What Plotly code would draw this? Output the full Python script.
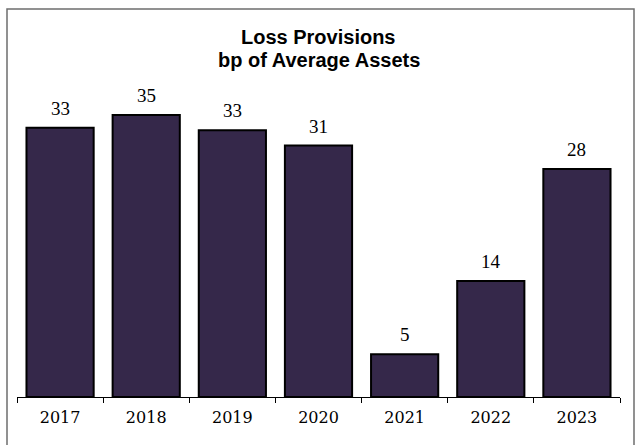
import plotly.graph_objects as go

years = ["2017", "2018", "2019", "2020", "2021", "2022", "2023"]
values = [33.4, 35.0, 33.1, 31.2, 5.3, 14.4, 28.3]
labels = ["33", "35", "33", "31", "5", "14", "28"]
title_lines = ["Loss Provisions", "bp of Average Assets"]

L, R, T, B = 17, 20, 100, 48
W, H = 640, 445
pw, ph = W - L - R, H - T - B

def px_x(x):
    return (x - L) / pw

def px_y(y):
    return (H - B - y) / ph

fig = go.Figure(go.Bar(
    x=years, y=values,
    marker=dict(color="#35284A", line=dict(color="black", width=2)),
    width=0.78,
))

annotations = []
for i, (v, lab) in enumerate(zip(values, labels)):
    annotations.append(dict(x=i, y=v, xref="x", yref="y", text=lab, showarrow=False,
                            yanchor="bottom", yshift=7,
                            font=dict(family="Liberation Serif", size=19, color="black")))
for line, ypix in zip(title_lines, [37, 60]):
    annotations.append(dict(x=0.5, y=px_y(ypix), xref="paper", yref="paper", text="<b>%s</b>" % line,
                            showarrow=False, xanchor="center", yanchor="middle",
                            font=dict(family="Liberation Sans", size=20, color="black")))

fig.update_layout(
    width=W, height=H,
    margin=dict(l=L, r=R, t=T, b=B),
    paper_bgcolor="white", plot_bgcolor="white",
    showlegend=False,
    xaxis=dict(type="category", range=[-0.5, len(years) - 0.5],
               showline=True, linecolor="black", linewidth=1,
               ticks="outside", tickson="boundaries", ticklen=5, tickcolor="black",
               tickfont=dict(family="DejaVu Serif", size=16, color="black"),
               ticklabelstandoff=6,
               showgrid=False),
    yaxis=dict(range=[0, ph / 8.06], visible=False, showgrid=False),
    annotations=annotations,
    shapes=[dict(type="rect", xref="paper", yref="paper",
                 x0=px_x(7), x1=px_x(634), y0=px_y(452), y1=px_y(9),
                 line=dict(color="#6e6e6e", width=1.5))],
)

fig.write_html("out.html")
